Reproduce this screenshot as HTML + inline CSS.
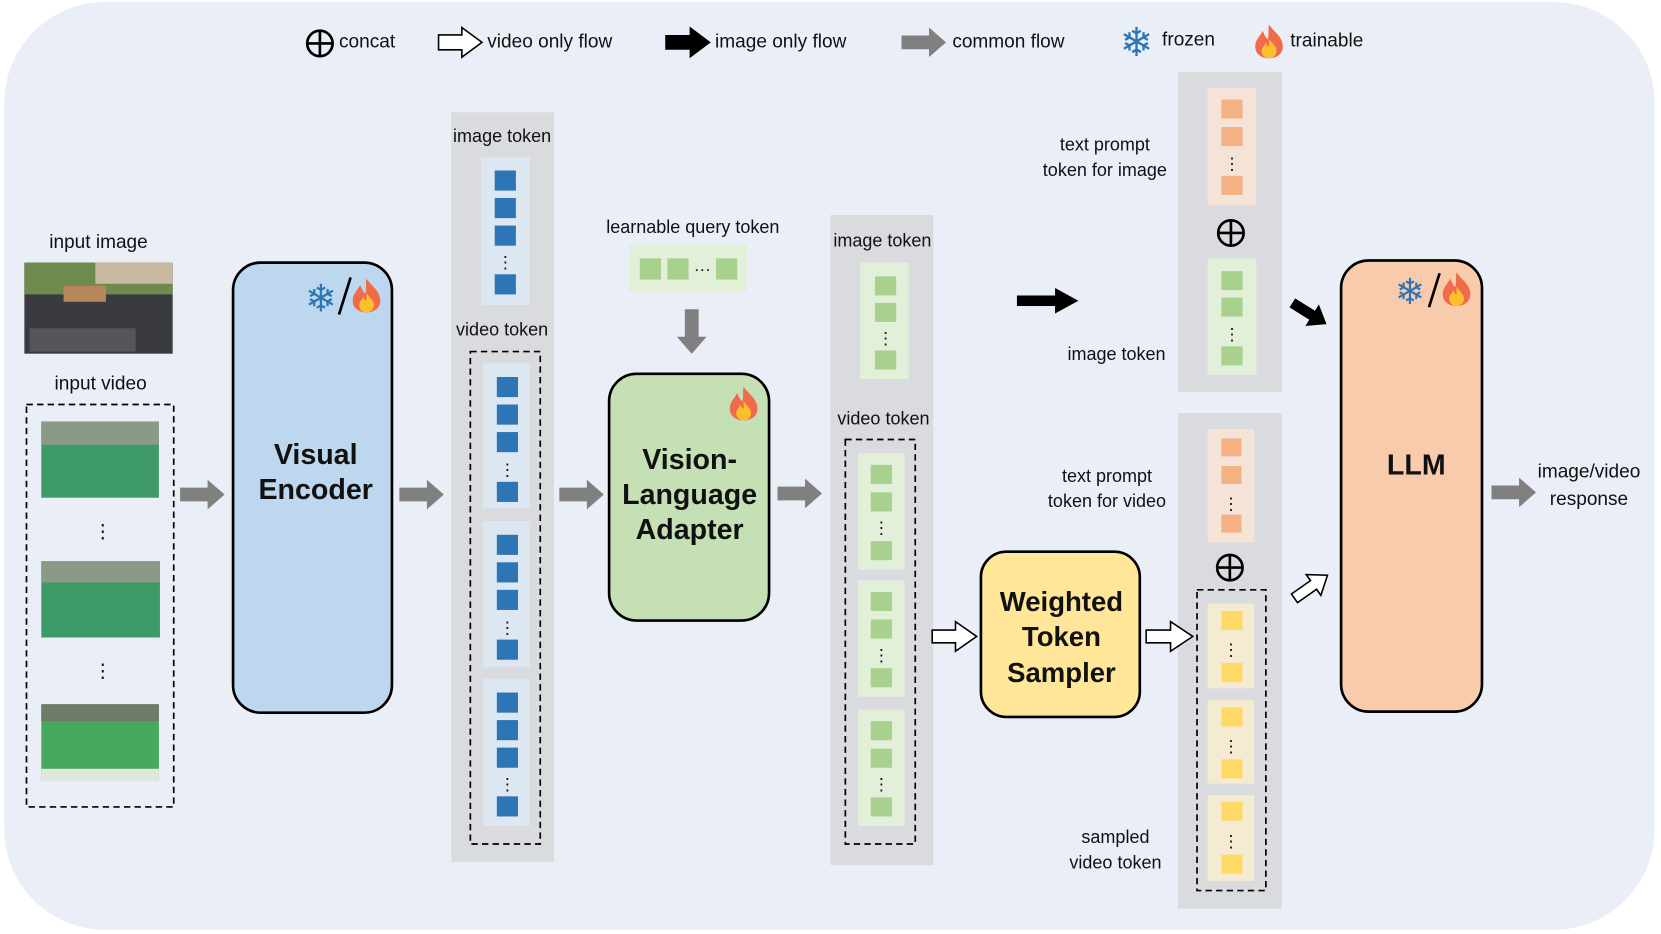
<!DOCTYPE html>
<html><head><meta charset="utf-8"><style>
html,body{margin:0;padding:0;background:#fff;}
svg{display:block;}
text{font-family:"Liberation Sans",sans-serif;fill:#111;}
</style></head><body>
<svg width="1661" height="934" viewBox="0 0 1568 882" preserveAspectRatio="none" xmlns="http://www.w3.org/2000/svg">
<defs>
<path id="ga" d="M0,-6.5 H26 V-14 L42,0 L26,14 V6.5 H0 Z"/>
<g id="flame">
<path d="M0,-17 C4,-10 13,-6 13,4 C13,11 7,15 0,15 C-7,15 -13,11 -13,4 C-13,-3 -8,-6 -6,-11 C-4,-6 -3,-4 -1,-3 C0,-8 -1,-12 0,-17 Z" fill="#ef6b4a"/>
<path d="M0,-3 C3,1 7,4 7,8 C7,12 4,15 0,15 C-4,15 -7,12 -7,8 C-7,5 -4,3 -3,0 C-2,3 -1,4 0,4 Z" fill="#fbc02d"/>
</g>
<g id="plus"><circle r="12" fill="none" stroke="#000" stroke-width="2.5"/><path d="M-12,0 H12 M0,-12 V12" stroke="#000" stroke-width="2.5"/></g>
</defs>
<rect x="0" y="0" width="1568" height="882" fill="#fff"/>
<rect x="4" y="2" width="1558" height="876" rx="95" fill="#eaeef7"/>

<!-- legend -->
<use href="#plus" x="302" y="41"/>
<text x="320" y="45" font-size="18">concat</text>
<path d="M414,33 H436 V26 L455,40 L436,54 V47 H414 Z" fill="#fff" stroke="#000" stroke-width="1.5"/>
<text x="460" y="45" font-size="18">video only flow</text>
<path d="M628,33 H651 V25 L671,40 L651,55 V47 H628 Z" fill="#000"/>
<text x="675" y="45" font-size="18">image only flow</text>
<use href="#ga" x="851" y="40" fill="#808080"/>
<text x="899" y="45" font-size="18">common flow</text>
<text x="1073" y="53" font-size="38" text-anchor="middle" style="fill:#2e75b6">❄</text>
<text x="1097" y="43" font-size="18">frozen</text>
<use href="#flame" x="1198" y="40"/>
<text x="1218" y="44" font-size="18">trainable</text>

<!-- inputs -->
<text x="93" y="234" font-size="18" text-anchor="middle">input image</text>
<rect x="23" y="248" width="140" height="86" fill="#3a3b40"/>
<rect x="23" y="248" width="140" height="30" fill="#6f8a4f"/>
<rect x="90" y="248" width="73" height="20" fill="#c9b9a0"/>
<rect x="60" y="270" width="40" height="15" fill="#b7875a"/>
<rect x="28" y="310" width="100" height="22" fill="#55565c"/>
<text x="95" y="368" font-size="18" text-anchor="middle">input video</text>
<rect x="25" y="382" width="139" height="380" fill="none" stroke="#000" stroke-width="1.6" stroke-dasharray="6,4"/>
<rect x="39" y="398" width="111" height="72" fill="#3e9a66"/><rect x="39" y="398" width="111" height="22" fill="#8a9a86"/>
<rect x="39" y="530" width="112" height="72" fill="#3e9a66"/><rect x="39" y="530" width="112" height="20" fill="#8a9a86"/>
<rect x="39" y="665" width="111" height="72" fill="#48a85e"/><rect x="39" y="665" width="111" height="16" fill="#6f7b6a"/><rect x="39" y="726" width="111" height="11" fill="#dfe8dd"/>
<text x="97" y="508" font-size="18" text-anchor="middle">⋮</text>
<text x="97" y="640" font-size="18" text-anchor="middle">⋮</text>
<use href="#ga" x="170" y="467" fill="#808080"/>

<!-- visual encoder -->
<rect x="220" y="248" width="150" height="425" rx="26" fill="#bdd7ee" stroke="#000" stroke-width="2.5"/>
<text x="298" y="438" font-size="27" font-weight="bold" text-anchor="middle">Visual</text>
<text x="298" y="471" font-size="27" font-weight="bold" text-anchor="middle">Encoder</text>
<text x="303" y="294" font-size="36" text-anchor="middle" style="fill:#2e75b6">❄</text>
<path d="M331,262 L320,297" stroke="#000" stroke-width="2.5"/>
<use href="#flame" x="346" y="280"/>
<use href="#ga" x="377" y="467" fill="#808080"/>

<!-- column 1 -->
<rect x="426" y="106" width="97" height="708" fill="#d9dbde"/>
<text x="474" y="134" font-size="17" text-anchor="middle">image token</text>
<rect x="454" y="148" width="46" height="140" fill="#dde7f2"/>
<g fill="#2e75b6">
<rect x="467" y="161" width="20" height="19"/><rect x="467" y="187" width="20" height="19"/><rect x="467" y="213" width="20" height="19"/><rect x="467" y="259" width="20" height="19"/>
</g>
<text x="477" y="253" font-size="16" text-anchor="middle">⋮</text>
<text x="474" y="317" font-size="17" text-anchor="middle">video token</text>
<rect x="444" y="332" width="66" height="465" fill="none" stroke="#000" stroke-width="1.6" stroke-dasharray="6,4"/>
<g fill="#dde7f2"><rect x="456" y="343" width="44" height="137"/><rect x="456" y="492" width="44" height="138"/><rect x="456" y="641" width="44" height="139"/></g>
<g fill="#2e75b6">
<rect x="469" y="356" width="20" height="19"/><rect x="469" y="382" width="20" height="19"/><rect x="469" y="408" width="20" height="19"/><rect x="469" y="455" width="20" height="19"/>
<rect x="469" y="505" width="20" height="19"/><rect x="469" y="531" width="20" height="19"/><rect x="469" y="557" width="20" height="19"/><rect x="469" y="604" width="20" height="19"/>
<rect x="469" y="654" width="20" height="19"/><rect x="469" y="680" width="20" height="19"/><rect x="469" y="706" width="20" height="19"/><rect x="469" y="752" width="20" height="19"/>
</g>
<text x="479" y="449" font-size="16" text-anchor="middle">⋮</text>
<text x="479" y="598" font-size="16" text-anchor="middle">⋮</text>
<text x="479" y="746" font-size="16" text-anchor="middle">⋮</text>
<use href="#ga" x="528" y="467" fill="#808080"/>

<!-- adapter -->
<text x="654" y="220" font-size="17" text-anchor="middle">learnable query token</text>
<rect x="594" y="231" width="111" height="45" fill="#e2efd9"/>
<g fill="#a9d18e"><rect x="604" y="244" width="20" height="20"/><rect x="630" y="244" width="20" height="20"/><rect x="676" y="244" width="20" height="20"/></g>
<text x="663" y="259" font-size="16" text-anchor="middle">···</text>
<use href="#ga" transform="translate(653,292) rotate(90)" fill="#808080"/>
<rect x="575" y="353" width="151" height="233" rx="26" fill="#c5e0b4" stroke="#000" stroke-width="2.5"/>
<text x="651" y="443" font-size="27" font-weight="bold" text-anchor="middle">Vision-</text>
<text x="651" y="476" font-size="27" font-weight="bold" text-anchor="middle">Language</text>
<text x="651" y="509" font-size="27" font-weight="bold" text-anchor="middle">Adapter</text>
<use href="#flame" x="702" y="382"/>
<use href="#ga" x="734" y="466" fill="#808080"/>

<!-- column 2 -->
<rect x="784" y="203" width="97" height="614" fill="#d9dbde"/>
<text x="833" y="233" font-size="17" text-anchor="middle">image token</text>
<rect x="812" y="248" width="46" height="110" fill="#e2efd9"/>
<g fill="#a9d18e"><rect x="826" y="261" width="20" height="18"/><rect x="826" y="286" width="20" height="18"/><rect x="826" y="331" width="20" height="18"/></g>
<text x="836" y="325" font-size="16" text-anchor="middle">⋮</text>
<text x="834" y="401" font-size="17" text-anchor="middle">video token</text>
<rect x="798" y="415" width="66" height="382" fill="none" stroke="#000" stroke-width="1.6" stroke-dasharray="6,4"/>
<g fill="#e2efd9"><rect x="810" y="428" width="44" height="110"/><rect x="810" y="548" width="44" height="110"/><rect x="810" y="670" width="44" height="110"/></g>
<g fill="#a9d18e">
<rect x="822" y="439" width="20" height="18"/><rect x="822" y="465" width="20" height="18"/><rect x="822" y="511" width="20" height="18"/>
<rect x="822" y="559" width="20" height="18"/><rect x="822" y="585" width="20" height="18"/><rect x="822" y="631" width="20" height="18"/>
<rect x="822" y="681" width="20" height="18"/><rect x="822" y="707" width="20" height="18"/><rect x="822" y="753" width="20" height="18"/>
</g>
<text x="832" y="504" font-size="16" text-anchor="middle">⋮</text>
<text x="832" y="624" font-size="16" text-anchor="middle">⋮</text>
<text x="832" y="746" font-size="16" text-anchor="middle">⋮</text>
<path d="M880,595 H902 V587 L922,601 L902,615 V607 H880 Z" fill="#fff" stroke="#000" stroke-width="1.5"/>

<!-- sampler -->
<rect x="926" y="521" width="150" height="156" rx="24" fill="#ffe699" stroke="#000" stroke-width="2.5"/>
<text x="1002" y="577" font-size="26" font-weight="bold" text-anchor="middle">Weighted</text>
<text x="1002" y="610" font-size="26" font-weight="bold" text-anchor="middle">Token</text>
<text x="1002" y="644" font-size="26" font-weight="bold" text-anchor="middle">Sampler</text>

<!-- column 3 top -->
<rect x="1112" y="68" width="98" height="302" fill="#d9dbde"/>
<text x="1043" y="142" font-size="17" text-anchor="middle">text prompt</text>
<text x="1043" y="166" font-size="17" text-anchor="middle">token for image</text>
<rect x="1140" y="83" width="46" height="111" fill="#f6e3d8"/>
<g fill="#f4b183"><rect x="1153" y="94" width="20" height="18"/><rect x="1153" y="120" width="20" height="18"/><rect x="1153" y="166" width="20" height="18"/></g>
<text x="1163" y="160" font-size="16" text-anchor="middle">⋮</text>
<use href="#plus" x="1162" y="220"/>
<rect x="1140" y="244" width="46" height="110" fill="#e2efd9"/>
<g fill="#a9d18e"><rect x="1153" y="256" width="20" height="18"/><rect x="1153" y="281" width="20" height="18"/><rect x="1153" y="327" width="20" height="18"/></g>
<text x="1163" y="321" font-size="16" text-anchor="middle">⋮</text>
<text x="1054" y="340" font-size="17" text-anchor="middle">image token</text>
<path d="M960,279 H996 V272 L1018,284 L996,296 V289 H960 Z" fill="#000"/>

<!-- column 3 bottom -->
<rect x="1112" y="390" width="98" height="468" fill="#d9dbde"/>
<text x="1045" y="455" font-size="17" text-anchor="middle">text prompt</text>
<text x="1045" y="479" font-size="17" text-anchor="middle">token for video</text>
<rect x="1140" y="405" width="44" height="107" fill="#f6e3d8"/>
<g fill="#f4b183"><rect x="1153" y="414" width="19" height="17"/><rect x="1153" y="440" width="19" height="17"/><rect x="1153" y="486" width="19" height="17"/></g>
<text x="1162" y="481" font-size="16" text-anchor="middle">⋮</text>
<use href="#plus" x="1161" y="536"/>
<rect x="1130" y="557" width="65" height="284" fill="none" stroke="#000" stroke-width="1.6" stroke-dasharray="6,4"/>
<g fill="#f5ebd2"><rect x="1140" y="570" width="44" height="80"/><rect x="1140" y="661" width="44" height="79"/><rect x="1140" y="751" width="44" height="81"/></g>
<g fill="#ffd966">
<rect x="1153" y="577" width="20" height="18"/><rect x="1153" y="626" width="20" height="18"/>
<rect x="1153" y="668" width="20" height="18"/><rect x="1153" y="717" width="20" height="18"/>
<rect x="1153" y="757" width="20" height="18"/><rect x="1153" y="807" width="20" height="18"/>
</g>
<text x="1162" y="619" font-size="16" text-anchor="middle">⋮</text>
<text x="1162" y="710" font-size="16" text-anchor="middle">⋮</text>
<text x="1162" y="800" font-size="16" text-anchor="middle">⋮</text>
<text x="1053" y="796" font-size="17" text-anchor="middle">sampled</text>
<text x="1053" y="820" font-size="17" text-anchor="middle">video token</text>
<path d="M1082,595 H1105 V587 L1126,601 L1105,615 V607 H1082 Z" fill="#fff" stroke="#000" stroke-width="1.5"/>

<!-- diag arrows -->
<path d="M0,-5 H22 V-12 L38,0 L22,12 V5 H0 Z" fill="#000" transform="translate(1220,286) rotate(32)"/>
<path d="M0,-5 H22 V-12 L38,0 L22,12 V5 H0 Z" fill="#fff" stroke="#000" stroke-width="1.5" transform="translate(1222,565) rotate(-35)"/>

<!-- LLM -->
<rect x="1266" y="246" width="133" height="426" rx="26" fill="#f8cbad" stroke="#000" stroke-width="2.5"/>
<text x="1337" y="448" font-size="27" font-weight="bold" text-anchor="middle">LLM</text>
<text x="1331" y="287" font-size="34" text-anchor="middle" style="fill:#2e75b6">❄</text>
<path d="M1359,258 L1349,290" stroke="#000" stroke-width="2.5"/>
<use href="#flame" x="1375" y="274"/>
<use href="#ga" x="1408" y="465" fill="#808080"/>
<text x="1500" y="451" font-size="18" text-anchor="middle">image/video</text>
<text x="1500" y="477" font-size="18" text-anchor="middle">response</text>
</svg>
</body></html>
